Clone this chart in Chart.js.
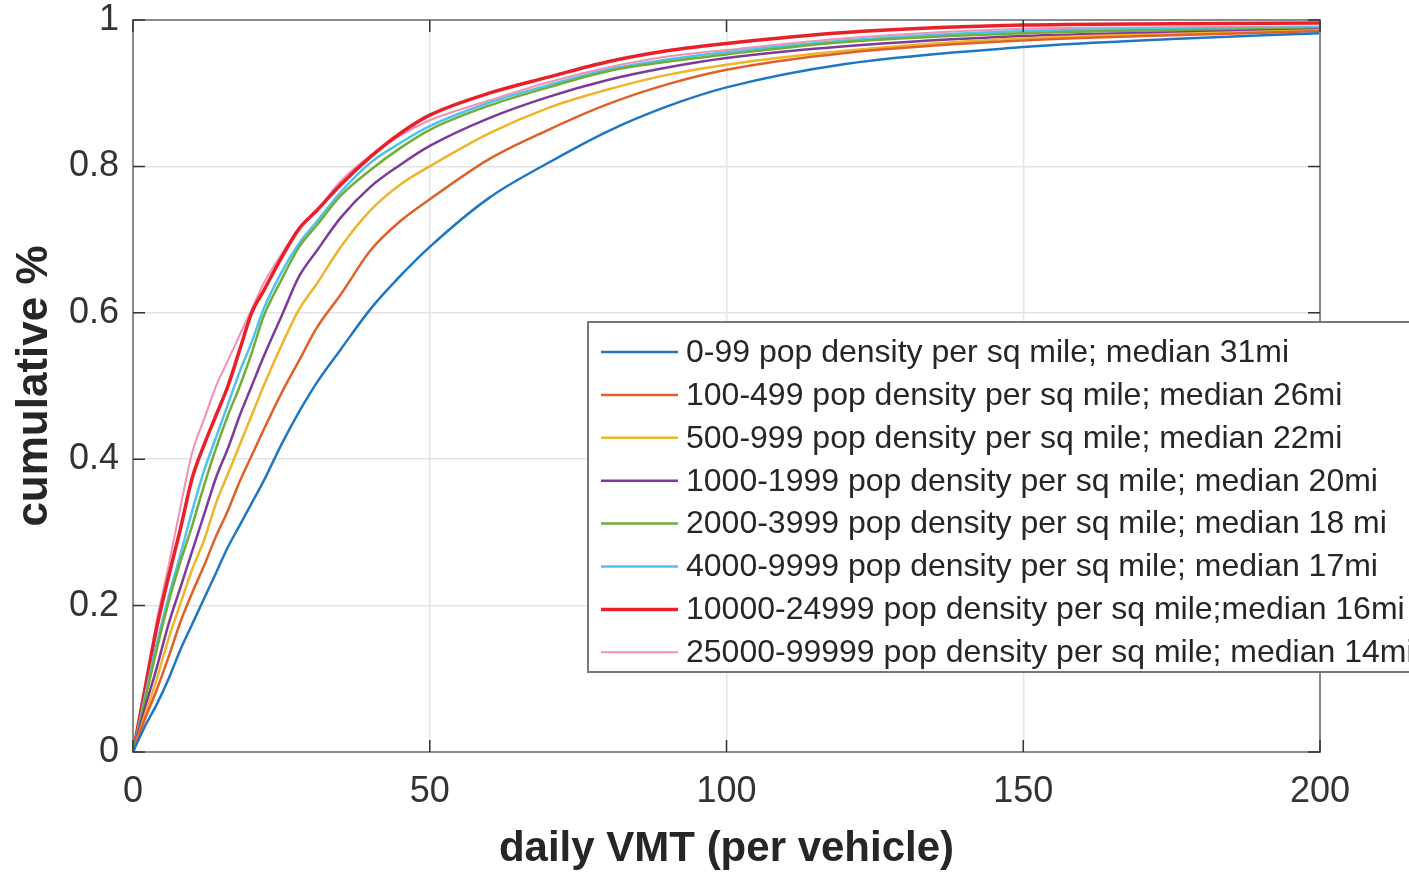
<!DOCTYPE html>
<html>
<head>
<meta charset="utf-8">
<script src="https://cdn.jsdelivr.net/npm/chart.js@4.4.1/dist/chart.umd.min.js"></script>
<style>
  html, body { margin: 0; padding: 0; background: #fff; }
  canvas { display: block; }
</style>
</head>
<body>
<canvas id="cdf" width="1409" height="875"></canvas>
<script>
// daily VMT sample points (miles)
const vmt = [0, 2, 4, 6, 8, 10, 12, 14, 16, 18, 20, 22, 25, 28, 31, 35, 40, 45, 50, 60, 70, 80, 90, 100, 120, 150, 175, 200];

const labels = [
  '0-99 pop density per sq mile; median 31mi',
  '100-499 pop density per sq mile; median 26mi',
  '500-999 pop density per sq mile; median 22mi',
  '1000-1999 pop density per sq mile; median 20mi',
  '2000-3999 pop density per sq mile; median 18 mi',
  '4000-9999 pop density per sq mile; median 17mi',
  '10000-24999 pop density per sq mile;median 16mi',
  '25000-99999 pop density per sq mile; median 14mi'
];

const d0_99 = [0, 0.035, 0.065, 0.10, 0.14, 0.175, 0.21, 0.245, 0.28, 0.31, 0.34, 0.37, 0.42, 0.465, 0.505, 0.55, 0.605, 0.65, 0.69, 0.757, 0.805, 0.848, 0.882, 0.908, 0.94, 0.963, 0.974, 0.982];
const d100_499 = [0, 0.045, 0.085, 0.13, 0.178, 0.218, 0.255, 0.295, 0.33, 0.37, 0.405, 0.44, 0.49, 0.535, 0.58, 0.625, 0.685, 0.725, 0.755, 0.81, 0.85, 0.885, 0.912, 0.932, 0.955, 0.972, 0.979, 0.985];
const d500_999 = [0, 0.05, 0.10, 0.155, 0.203, 0.25, 0.29, 0.34, 0.38, 0.42, 0.46, 0.50, 0.555, 0.605, 0.64, 0.69, 0.74, 0.775, 0.80, 0.845, 0.88, 0.905, 0.925, 0.939, 0.958, 0.975, 0.981, 0.986];
const d1000_1999 = [0, 0.06, 0.115, 0.175, 0.225, 0.275, 0.325, 0.375, 0.415, 0.46, 0.50, 0.54, 0.595, 0.65, 0.685, 0.73, 0.772, 0.802, 0.828, 0.866, 0.895, 0.918, 0.935, 0.948, 0.964, 0.978, 0.983, 0.987];
const d2000_3999 = [0, 0.07, 0.14, 0.205, 0.26, 0.31, 0.365, 0.415, 0.46, 0.50, 0.545, 0.595, 0.645, 0.69, 0.72, 0.76, 0.795, 0.825, 0.85, 0.883, 0.908, 0.93, 0.943, 0.953, 0.97, 0.982, 0.986, 0.988];
const d4000_9999 = [0, 0.075, 0.148, 0.212, 0.27, 0.33, 0.385, 0.43, 0.475, 0.52, 0.56, 0.605, 0.655, 0.695, 0.725, 0.765, 0.805, 0.832, 0.855, 0.887, 0.911, 0.932, 0.946, 0.956, 0.972, 0.985, 0.988, 0.99];
const d10000_24999 = [0, 0.085, 0.17, 0.24, 0.305, 0.375, 0.42, 0.46, 0.50, 0.55, 0.60, 0.63, 0.675, 0.715, 0.74, 0.775, 0.813, 0.845, 0.87, 0.90, 0.922, 0.943, 0.958, 0.968, 0.983, 0.993, 0.995, 0.996];
const d25000_99999 = [0, 0.09, 0.18, 0.255, 0.335, 0.41, 0.455, 0.50, 0.535, 0.57, 0.605, 0.64, 0.68, 0.715, 0.74, 0.78, 0.815, 0.842, 0.863, 0.89, 0.915, 0.935, 0.95, 0.959, 0.975, 0.988, 0.99, 0.991];

const series = [d0_99, d100_499, d500_999, d1000_1999, d2000_3999, d4000_9999, d10000_24999, d25000_99999];
const colors = ['#1f77c4', '#e0602a', '#f0b429', '#7e3a9a', '#72ad36', '#4ec3ee', '#e8202a', '#f58fb4'];
const widths = [2.5, 2.5, 2.5, 2.5, 2.5, 2.5, 3.5, 2];

const xTicks = [0, 50, 100, 150, 200];
const yTicks = [0, 0.2, 0.4, 0.6, 0.8, 1];

const FONT = '"Liberation Sans", Arial, Helvetica, sans-serif';

// box around the axes with MATLAB-style inward ticks, and a legend inside
const boxPlugin = {
  id: 'box',
  afterDraw(chart) {
    const { ctx, chartArea: a, scales } = chart;
    ctx.save();
    ctx.strokeStyle = '#8a8a8a';
    ctx.lineWidth = 2;
    ctx.strokeRect(a.left, a.top, a.right - a.left, a.bottom - a.top);
    ctx.strokeStyle = '#333';
    ctx.lineWidth = 1.5;
    xTicks.forEach(v => {
      const px = scales.x.getPixelForValue(v);
      ctx.beginPath();
      ctx.moveTo(px, a.bottom); ctx.lineTo(px, a.bottom - 12);
      ctx.moveTo(px, a.top); ctx.lineTo(px, a.top + 12);
      ctx.stroke();
    });
    yTicks.forEach(v => {
      const py = scales.y.getPixelForValue(v);
      ctx.beginPath();
      ctx.moveTo(a.left, py); ctx.lineTo(a.left + 12, py);
      ctx.moveTo(a.right, py); ctx.lineTo(a.right - 12, py);
      ctx.stroke();
    });

    // legend
    const lx = 588, ly = 322, lw = 840, lh = 350;
    ctx.fillStyle = '#fff';
    ctx.fillRect(lx, ly, lw, lh);
    ctx.strokeStyle = '#777';
    ctx.lineWidth = 2;
    ctx.strokeRect(lx, ly, lw, lh);
    ctx.font = '32px ' + FONT;
    ctx.textBaseline = 'middle';
    ctx.fillStyle = '#262626';
    chart.data.datasets.forEach((ds, i) => {
      const y = ly + 30 + i * 42.9;
      ctx.strokeStyle = ds.borderColor;
      ctx.lineWidth = ds.borderWidth;
      ctx.beginPath();
      ctx.moveTo(601, y); ctx.lineTo(678, y);
      ctx.stroke();
      ctx.fillText(ds.label, 686, y + 1);
    });
    ctx.restore();
  }
};

new Chart(document.getElementById('cdf'), {
  type: 'line',
  data: {
    datasets: series.map((s, i) => ({
      label: labels[i],
      data: s.map((v, j) => ({ x: vmt[j], y: v })),
      borderColor: colors[i],
      borderWidth: widths[i],
      pointRadius: 0,
      fill: false,
      cubicInterpolationMode: 'monotone'
    }))
  },
  options: {
    responsive: false,
    animation: false,
    layout: { padding: { top: 20, right: 89, left: 0, bottom: 0 } },
    plugins: { legend: { display: false }, tooltip: { enabled: false } },
    scales: {
      x: {
        type: 'linear', min: 0, max: 200,
        afterBuildTicks: s => { s.ticks = xTicks.map(v => ({ value: v })); },
        afterFit: s => { s.height = 123; s.paddingLeft = 0; s.paddingRight = 0; },
        grid: { color: '#e4e4e4', lineWidth: 1.5, drawTicks: false },
        border: { display: false },
        ticks: { color: '#333', font: { family: FONT, size: 36 }, padding: 18, maxRotation: 0 },
        title: { display: true, text: 'daily VMT (per vehicle)', color: '#262626',
                 font: { family: FONT, size: 42, weight: 'bold' }, padding: { top: 4, bottom: 0 } }
      },
      y: {
        type: 'linear', min: 0, max: 1,
        afterBuildTicks: s => { s.ticks = yTicks.map(v => ({ value: v })); },
        afterFit: s => { s.width = 133; s.paddingTop = 0; s.paddingBottom = 0; },
        grid: { color: '#e4e4e4', lineWidth: 1.5, drawTicks: false },
        border: { display: false },
        ticks: { color: '#333', font: { family: FONT, size: 36 }, padding: 14,
                 callback: v => (v === 0 || v === 1) ? String(v) : v.toFixed(1) },
        title: { display: true, text: 'cumulative %', color: '#262626',
                 font: { family: FONT, size: 44, weight: 'bold' }, padding: { top: 8, bottom: 4 } }
      }
    }
  },
  plugins: [boxPlugin]
});
</script>
</body>
</html>
